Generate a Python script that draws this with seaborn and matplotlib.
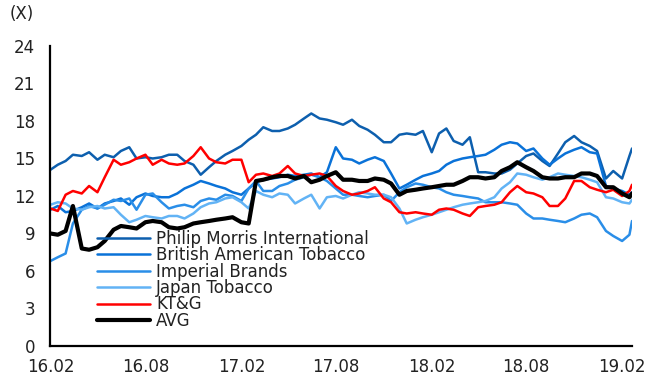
import pandas as pd
import matplotlib
matplotlib.use('Agg')
import matplotlib.pyplot as plt
import seaborn as sns

# semi-monthly sampling of the P/E series
dates = list(pd.date_range('2016-02-01', '2019-02-15', freq='SMS')) + [pd.Timestamp('2019-02-20')]

pmi = [14.1, 14.5, 14.8, 15.3, 15.2, 15.5, 14.9, 15.3, 15.1, 15.6,
       15.9, 15.0, 15.1, 15.0, 15.1, 15.3, 15.3, 14.8, 14.5, 13.7,
       14.3, 14.8, 15.3, 15.6, 16.0, 16.5, 16.9, 17.5, 17.2, 17.2,
       17.4, 17.7, 18.2, 18.6, 18.2, 18.1, 17.9, 17.7, 18.1, 17.6,
       17.3, 16.9, 16.3, 16.3, 16.9, 17.0, 16.9, 17.2, 15.5, 17.0,
       17.4, 16.4, 16.1, 16.7, 13.9, 13.9, 13.8, 13.8, 14.1, 14.6,
       15.2, 15.4, 14.8, 14.4, 15.4, 16.3, 16.8, 16.3, 16.0, 15.6,
       13.4, 14.0, 13.4, 15.2, 15.8]

bat = [10.9, 11.2, 10.7, 10.8, 11.1, 11.4, 11.0, 11.4, 11.6, 11.8,
       11.3, 11.9, 12.2, 12.0, 11.9, 11.9, 12.2, 12.6, 12.9, 13.2,
       13.0, 12.8, 12.6, 12.3, 12.1, 12.6, 13.1, 13.3, 13.4, 13.5,
       13.7, 13.6, 13.7, 13.8, 13.5, 13.9, 15.9, 15.0, 14.9, 14.6,
       14.9, 15.1, 14.8, 13.8, 12.6, 12.9, 13.3, 13.6, 13.8, 14.0,
       14.5, 14.8, 15.0, 15.1, 15.2, 15.3, 15.7, 16.1, 16.3, 16.2,
       15.6, 15.8, 15.0, 14.5, 15.0, 15.4, 15.7, 15.9, 15.5, 15.4,
       12.8, 12.6, 12.4, 12.1, 12.3]

imperial = [6.8, 7.1, 7.4, 9.8, 10.9, 11.2, 11.0, 11.3, 11.7, 11.6,
            11.8, 10.9, 12.1, 12.2, 11.5, 11.0, 11.2, 11.3, 11.1, 11.6,
            11.8, 11.7, 12.1, 12.0, 11.6, 12.6, 13.2, 12.4, 12.4, 12.8,
            13.0, 13.3, 13.5, 13.7, 13.5, 13.2, 12.6, 12.1, 12.1, 12.0,
            11.9, 12.0, 12.1, 11.6, 12.3, 12.7, 13.0, 12.9, 12.7, 12.6,
            12.3, 12.1, 12.0, 11.9, 11.8, 11.5, 11.5, 11.5, 11.4, 11.3,
            10.6, 10.2, 10.2, 10.1, 10.0, 9.9, 10.2, 10.5, 10.6, 10.3,
            9.2, 8.8, 8.4, 8.9, 10.0]

japan = [11.3, 11.5, 11.4, 11.0, 10.9, 11.1, 11.2, 11.0, 11.1, 10.5,
         9.9, 10.1, 10.4, 10.3, 10.2, 10.4, 10.4, 10.2, 10.6, 11.1,
         11.4, 11.5, 11.8, 11.9, 11.5, 11.0, 12.4, 12.1, 11.9, 12.2,
         12.1, 11.4, 11.8, 12.1, 11.0, 11.9, 12.0, 11.8, 12.1, 12.3,
         12.2, 12.1, 12.1, 11.9, 11.0, 9.8, 10.1, 10.3, 10.5, 10.7,
         10.9, 11.1, 11.3, 11.4, 11.5, 11.6, 11.9, 12.6, 13.1, 13.8,
         13.7, 13.5, 13.3, 13.5, 13.8, 13.7, 13.6, 13.5, 13.3, 13.1,
         11.9, 11.8, 11.5, 11.4, 11.7]

ktg = [11.0, 10.8, 12.1, 12.4, 12.2, 12.8, 12.3, 13.5, 14.9, 14.5,
       14.7, 15.0, 15.3, 14.5, 14.9, 14.6, 14.5, 14.6, 15.2, 15.9,
       15.0, 14.7, 14.6, 14.9, 14.9, 13.1, 13.7, 13.8, 13.6, 13.8,
       14.4, 13.8, 13.6, 13.7, 13.8, 13.6, 12.8, 12.4, 12.1, 12.2,
       12.4, 12.7, 11.8, 11.5, 10.7, 10.6, 10.7, 10.6, 10.5, 10.9,
       11.0, 10.9, 10.6, 10.4, 11.1, 11.2, 11.3, 11.5, 12.3, 12.8,
       12.3, 12.2, 11.9, 11.2, 11.2, 11.8, 13.2, 13.2, 12.7, 12.5,
       12.3, 12.5, 12.0, 12.4, 12.9]

avg = [9.0, 8.9, 9.2, 11.2, 7.8, 7.7, 7.9, 8.4, 9.3, 9.6,
       9.5, 9.4, 9.9, 10.0, 9.9, 9.5, 9.4, 9.5, 9.8, 9.9,
       10.0, 10.1, 10.2, 10.3, 9.9, 9.8, 13.2, 13.3, 13.5, 13.6,
       13.6, 13.4, 13.6, 13.1, 13.3, 13.6, 13.9, 13.3, 13.3, 13.2,
       13.2, 13.4, 13.3, 13.0, 12.1, 12.4, 12.5, 12.6, 12.7, 12.8,
       12.9, 12.9, 13.2, 13.5, 13.5, 13.4, 13.5, 14.0, 14.3, 14.7,
       14.3, 14.0, 13.5, 13.4, 13.4, 13.5, 13.5, 13.8, 13.8, 13.6,
       12.7, 12.7, 12.2, 11.9, 12.2]

names = ['Philip Morris International', 'British American Tobacco',
         'Imperial Brands', 'Japan Tobacco', 'KT&G', 'AVG']
tick_dates = ['2016-02-01', '2016-08-01', '2017-02-01', '2017-08-01',
              '2018-02-01', '2018-08-01', '2019-02-01']
tick_labels = ['16.02', '16.08', '17.02', '17.08', '18.02', '18.08', '19.02']

colors = ['#0d5fae', '#0a72d8', '#2a8ee8', '#62b3f5', '#ff0000', '#000000']
widths = [1.8, 1.8, 1.8, 1.8, 1.8, 3.0]

sns.set_style('white')
plt.rcParams['font.family'] = ['DejaVu Sans']

fig = plt.figure(figsize=(6.66, 3.8), dpi=100)
ax = fig.add_axes([0.0758, 0.0895, 0.8732, 0.7895])

for name, vals, c, lw in zip(names, [pmi, bat, imperial, japan, ktg, avg], colors, widths):
    sns.lineplot(x=dates, y=vals, color=c, linewidth=lw, label=name, ax=ax)

ax.set_xlim(pd.Timestamp('2016-02-01'), pd.Timestamp('2019-02-20'))
ax.set_ylim(0, 24)
ax.set_yticks(range(0, 25, 3))
ax.set_xticks(pd.to_datetime(tick_dates))
ax.set_xticklabels(tick_labels)

for side in ['top', 'right']:
    ax.spines[side].set_visible(False)
for side in ['left', 'bottom']:
    ax.spines[side].set_linewidth(1.6)
    ax.spines[side].set_color('black')

ax.tick_params(axis='both', direction='in', length=4, width=1.2,
               labelsize=12, labelcolor='#222222', color='black')
ax.tick_params(axis='y', pad=11)
ax.tick_params(axis='x', pad=9)
ax.set_xlabel('')
ax.set_ylabel('')

leg = ax.legend(loc='upper left', bbox_to_anchor=(97 / 666, 1 - 230 / 380),
                bbox_transform=fig.transFigure, frameon=False, fontsize=12,
                handlelength=3.2, handletextpad=0.35, labelspacing=-0.1,
                borderpad=0, borderaxespad=0)
for t in leg.get_texts():
    t.set_color('#222222')

fig.text(10 / 666, 1 - 14 / 380, '(X)', fontsize=12, color='#222222',
         ha='left', va='center')

fig.savefig('out.png', dpi=100)
plt.close(fig)
